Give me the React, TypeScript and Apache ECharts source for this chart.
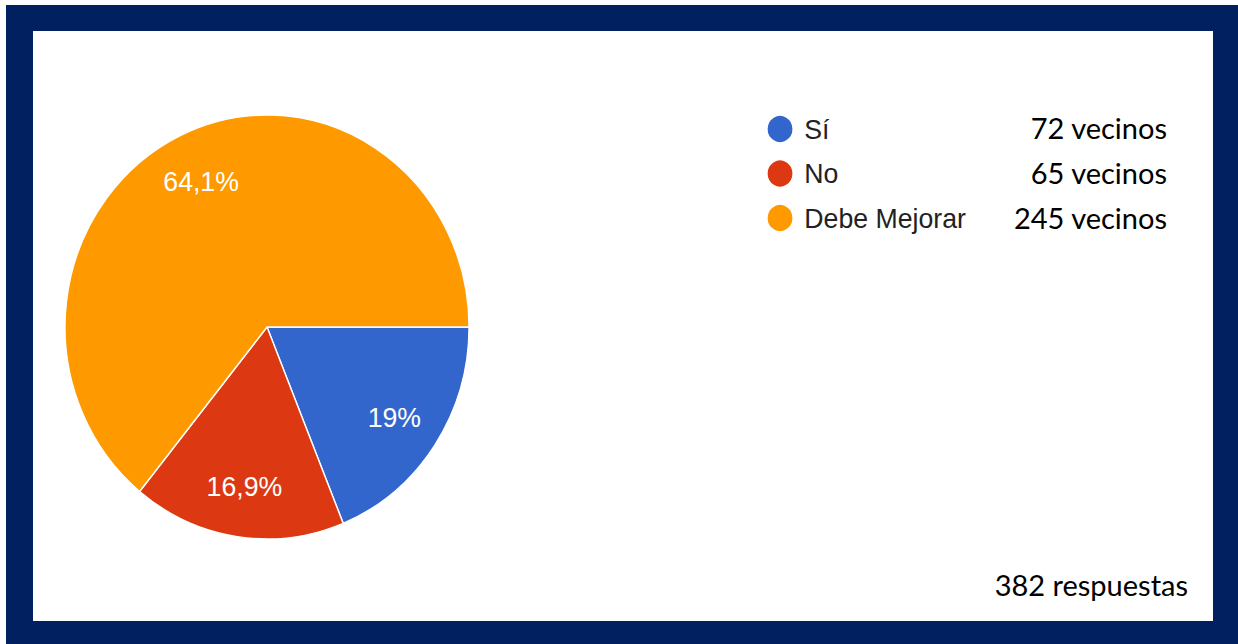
import React, { useEffect, useRef } from "react";
import * as echarts from "echarts";

const categories = ["Sí", "No", "Debe Mejorar"];
const counts = [72, 65, 245];
const percentLabels = ["19%", "16,9%", "64,1%"];
const sliceColors = ["#3366CC", "#DC3912", "#FF9900"];
const unitLabel = "vecinos";
const totalResponses = 382;
const totalLabel = "respuestas";

const W = 1238;
const H = 644;
const SX = 0.953; // horizontal squeeze of the pasted screenshot
const SW = W / SX;
const rowY = [127, 172, 217];

export default function App() {
  const refA = useRef<HTMLDivElement>(null);
  const refB = useRef<HTMLDivElement>(null);

  useEffect(() => {
    const a = echarts.init(refA.current!, null, { renderer: "svg" });
    const b = echarts.init(refB.current!, null, { renderer: "svg" });

    const valueTexts = categories.map((_, i) => ({
      type: "text",
      x: 1167,
      y: rowY[i],
      style: {
        text: `${counts[i]} ${unitLabel}`,
        fontFamily: "Lato",
        fontSize: 29,
        fill: "#000",
        align: "right",
        verticalAlign: "middle",
      },
    }));

    a.setOption({
      animation: false,
      graphic: [
        { type: "rect", shape: { x: 6, y: 5, width: W - 6, height: H - 5 }, style: { fill: "#002060" } },
        { type: "rect", shape: { x: 33, y: 31, width: 1180, height: 590 }, style: { fill: "#ffffff" } },
        ...valueTexts,
        {
          type: "text",
          x: 1188,
          y: 584,
          style: {
            text: `${totalResponses} ${totalLabel}`,
            fontFamily: "Lato",
            fontSize: 29,
            fill: "#000",
            align: "right",
            verticalAlign: "middle",
          },
        },
      ],
    });

    const data = categories.map((name, i) => ({
      name,
      value: counts[i],
      itemStyle: { color: sliceColors[i] },
    }));

    b.setOption({
      animation: false,
      legend: {
        orient: "vertical",
        left: 798.5,
        top: 109,
        icon: "circle",
        itemWidth: 41,
        itemHeight: 28,
        itemGap: 14.5,
        selectedMode: false,
        data: categories.map((name, i) => ({ name, itemStyle: { color: sliceColors[i] } })),
        textStyle: {
          fontFamily: "Liberation Sans, Arial",
          fontSize: 28,
          lineHeight: 28,
          color: "#222222",
        },
      },
      series: [
        {
          type: "pie",
          center: [280.2, 327],
          radius: 212,
          startAngle: 0,
          clockwise: true,
          silent: true,
          label: { show: false },
          labelLine: { show: false },
          itemStyle: { borderColor: "#ffffff", borderWidth: 1.5 },
          data,
        },
        {
          type: "pie",
          center: [280.2, 327],
          radius: [104, 212],
          startAngle: 0,
          clockwise: true,
          silent: true,
          labelLine: { show: false },
          itemStyle: { color: "rgba(0,0,0,0)", borderWidth: 0 },
          label: {
            show: true,
            position: "inside",
            formatter: (p: any) => percentLabels[p.dataIndex],
            fontFamily: "Liberation Sans, Arial",
            fontSize: 28,
            color: "#ffffff",
          },
          data: categories.map((name, i) => ({ name, value: counts[i] })),
        },
      ],
    });

    return () => {
      a.dispose();
      b.dispose();
    };
  }, []);

  return (
    <div style={{ position: "fixed", left: 0, top: 0, width: W, height: H, overflow: "hidden", background: "#ffffff" }}>
      <div ref={refA} style={{ position: "absolute", left: 0, top: 0, width: W, height: H }} />
      <div
        ref={refB}
        style={{
          position: "absolute",
          left: 0,
          top: 0,
          width: SW,
          height: H,
          transform: `scaleX(${SX})`,
          transformOrigin: "0 0",
        }}
      />
    </div>
  );
}
